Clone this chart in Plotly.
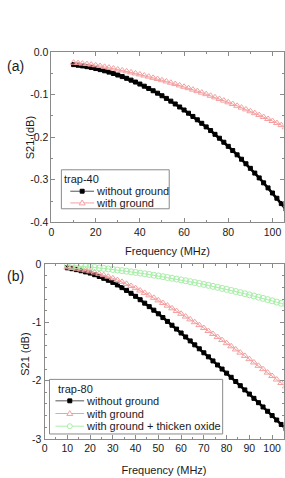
import plotly.graph_objects as go

# ---------------- data ----------------
freq = [10, 12, 14, 16, 18, 20, 22, 24, 26, 28, 30, 32, 34, 36, 38, 40, 42, 44, 46, 48,
        50, 52, 54, 56, 58, 60, 62, 64, 66, 68, 70, 72, 74, 76, 78, 80, 82, 84, 86, 88,
        90, 92, 94, 96, 98, 100, 102, 104, 106]

# (a) trap-40
a_without = [-0.0300, -0.0314, -0.0330, -0.0348, -0.0368, -0.0392, -0.0417, -0.0445, -0.0476, -0.0508,
             -0.0544, -0.0581, -0.0621, -0.0664, -0.0709, -0.0756, -0.0806, -0.0859, -0.0913, -0.0970,
             -0.1030, -0.1092, -0.1156, -0.1223, -0.1293, -0.1364, -0.1439, -0.1515, -0.1594, -0.1676,
             -0.1760, -0.1846, -0.1935, -0.2026, -0.2120, -0.2216, -0.2314, -0.2415, -0.2518, -0.2624,
             -0.2732, -0.2843, -0.2956, -0.3072, -0.3190, -0.3310, -0.3433, -0.3558, -0.3686]
a_with = [-0.0255, -0.0265, -0.0275, -0.0287, -0.0300, -0.0315, -0.0333, -0.0352, -0.0372, -0.0392,
          -0.0414, -0.0436, -0.0458, -0.0482, -0.0506, -0.0530, -0.0556, -0.0582, -0.0610, -0.0637,
          -0.0666, -0.0695, -0.0725, -0.0756, -0.0788, -0.0820, -0.0853, -0.0887, -0.0921, -0.0957,
          -0.0993, -0.1030, -0.1067, -0.1105, -0.1144, -0.1184, -0.1224, -0.1266, -0.1308, -0.1350,
          -0.1394, -0.1438, -0.1483, -0.1528, -0.1575, -0.1622, -0.1670, -0.1719, -0.1768]

# (b) trap-80
b_without = [-0.060, -0.075, -0.091, -0.110, -0.130, -0.150, -0.178, -0.208, -0.240, -0.274,
             -0.310, -0.354, -0.400, -0.448, -0.498, -0.550, -0.608, -0.667, -0.727, -0.788,
             -0.850, -0.915, -0.981, -1.047, -1.113, -1.180, -1.248, -1.316, -1.384, -1.452,
             -1.520, -1.590, -1.660, -1.730, -1.800, -1.870, -1.942, -2.014, -2.086, -2.158,
             -2.230, -2.304, -2.378, -2.452, -2.526, -2.600, -2.676, -2.752, -2.828]
b_with = [-0.050, -0.062, -0.075, -0.089, -0.104, -0.120, -0.140, -0.162, -0.186, -0.212,
          -0.240, -0.270, -0.302, -0.336, -0.372, -0.410, -0.450, -0.491, -0.533, -0.576,
          -0.620, -0.665, -0.710, -0.756, -0.803, -0.850, -0.898, -0.946, -0.995, -1.045,
          -1.095, -1.146, -1.197, -1.249, -1.302, -1.355, -1.409, -1.463, -1.518, -1.574,
          -1.630, -1.687, -1.744, -1.802, -1.861, -1.920, -1.980, -2.040, -2.100]
b_oxide = [-0.011, -0.017, -0.024, -0.030, -0.038, -0.045, -0.053, -0.061, -0.070, -0.079,
           -0.088, -0.098, -0.108, -0.118, -0.128, -0.139, -0.151, -0.162, -0.174, -0.187,
           -0.199, -0.212, -0.226, -0.239, -0.253, -0.268, -0.282, -0.298, -0.313, -0.329,
           -0.345, -0.361, -0.378, -0.395, -0.413, -0.430, -0.448, -0.467, -0.486, -0.505,
           -0.524, -0.544, -0.564, -0.585, -0.606, -0.627, -0.649, -0.670, -0.693]

a_series_names = ["without ground", "with ground"]
b_series_names = ["without ground", "with ground", "with ground + thicken oxide"]
a_legend_title = "trap-40"
b_legend_title = "trap-80"

a_xticks = [0, 20, 40, 60, 80, 100]
a_yticks = [0.0, -0.1, -0.2, -0.3, -0.4]
a_ylabels = ["0.0", "-0.1", "-0.2", "-0.3", "-0.4"]
b_xticks = [0, 10, 20, 30, 40, 50, 60, 70, 80, 90, 100]
b_yticks = [0, -1, -2, -3]
b_ylabels = ["0", "-1", "-2", "-3"]

# ---------------- figure ----------------
W, H = 285, 478
FONT = "Liberation Sans, Arial, sans-serif"
AX = "#8a8a8a"
TXT = "#1a1a1a"
PINK = "#f4a0a0"
GREEN = "#a8eea8"

STYLES = [
    dict(color="black", symbol="square", size=4, lw=2.5),
    dict(color=PINK, symbol="triangle-up-open", size=6, lw=1.0),
    dict(color=GREEN, symbol="circle-open", size=6, lw=1.0),
]


def px_x(p):
    return p / W


def px_y(p):
    return 1 - p / H


fig = go.Figure()

for ys, name, st in zip([a_without, a_with], a_series_names, STYLES):
    fig.add_trace(go.Scatter(x=freq, y=ys, name=name, mode="lines+markers", showlegend=False,
                             line=dict(color=st["color"], width=st["lw"]),
                             marker=dict(symbol=st["symbol"], size=st["size"], color=st["color"],
                                         line=dict(width=1, color=st["color"])),
                             xaxis="x", yaxis="y"))
for ys, name, st in zip([b_without, b_with, b_oxide], b_series_names, STYLES):
    fig.add_trace(go.Scatter(x=freq, y=ys, name=name, mode="lines+markers", showlegend=False,
                             line=dict(color=st["color"], width=st["lw"]),
                             marker=dict(symbol=st["symbol"], size=st["size"], color=st["color"],
                                         line=dict(width=1, color=st["color"])),
                             xaxis="x2", yaxis="y2"))

axis_common = dict(showline=True, linecolor=AX, linewidth=1, mirror="ticks",
                   ticks="inside", ticklen=4, tickcolor=AX, tickwidth=1,
                   showgrid=False, zeroline=False,
                   tickfont=dict(family=FONT, size=10.5, color=TXT))

shapes = []
annotations = []


def add_legend(box, title, title_xy, names, rows_y, line_x0, line_x1, text_x):
    x0, y0, x1, y1 = box
    shapes.append(dict(type="rect", xref="paper", yref="paper",
                       x0=px_x(x0), x1=px_x(x1), y0=px_y(y1), y1=px_y(y0),
                       line=dict(color=AX, width=1), fillcolor="rgba(0,0,0,0)", layer="above"))
    annotations.append(dict(text=title, x=px_x(title_xy[0]), y=px_y(title_xy[1]),
                            xref="paper", yref="paper", xanchor="left", yanchor="middle",
                            showarrow=False, font=dict(family=FONT, size=11, color=TXT)))
    for name, ry, st in zip(names, rows_y, STYLES):
        c = st["color"]
        shapes.append(dict(type="line", xref="paper", yref="paper",
                           x0=px_x(line_x0), x1=px_x(line_x1), y0=px_y(ry), y1=px_y(ry),
                           line=dict(color=c if c != "black" else "#555555", width=1), layer="above"))
        cx = (line_x0 + line_x1) / 2
        if st["symbol"] == "square":
            shapes.append(dict(type="rect", xref="paper", yref="paper",
                               x0=px_x(cx - 2), x1=px_x(cx + 2), y0=px_y(ry + 2), y1=px_y(ry - 2),
                               line=dict(color=c, width=1), fillcolor=c, layer="above"))
        elif st["symbol"].startswith("triangle"):
            path = "M {} {} L {} {} L {} {} Z".format(
                px_x(cx), px_y(ry - 3), px_x(cx - 3), px_y(ry + 2), px_x(cx + 3), px_y(ry + 2))
            shapes.append(dict(type="path", xref="paper", yref="paper", path=path,
                               line=dict(color=c, width=1), fillcolor="white", layer="above"))
        else:
            shapes.append(dict(type="circle", xref="paper", yref="paper",
                               x0=px_x(cx - 2.5), x1=px_x(cx + 2.5), y0=px_y(ry + 2.5), y1=px_y(ry - 2.5),
                               line=dict(color=c, width=1), fillcolor="white", layer="above"))
        annotations.append(dict(text=name, x=px_x(text_x), y=px_y(ry),
                                xref="paper", yref="paper", xanchor="left", yanchor="middle",
                                showarrow=False, font=dict(family=FONT, size=11, color=TXT)))


add_legend((59, 168, 168, 208), a_legend_title, (60, 177), a_series_names,
           [190, 202], 68, 92, 92)
add_legend((47, 383, 222, 439), b_legend_title, (54, 393), b_series_names,
           [405, 418, 431], 53, 82, 82)

annotations += [
    dict(text="(a)", x=px_x(2), y=px_y(62), xref="paper", yref="paper",
         xanchor="left", yanchor="middle", showarrow=False,
         font=dict(family=FONT, size=14, color=TXT)),
    dict(text="(b)", x=px_x(2), y=px_y(277), xref="paper", yref="paper",
         xanchor="left", yanchor="middle", showarrow=False,
         font=dict(family=FONT, size=14, color=TXT)),
    dict(text="S21 (dB)", x=px_x(27), y=px_y(135), xref="paper", yref="paper",
         xanchor="center", yanchor="middle", textangle=-90, showarrow=False,
         font=dict(family=FONT, size=11, color=TXT)),
    dict(text="S21 (dB)", x=px_x(22), y=px_y(357), xref="paper", yref="paper",
         xanchor="center", yanchor="middle", textangle=-90, showarrow=False,
         font=dict(family=FONT, size=11, color=TXT)),
]

fig.update_layout(
    width=W, height=H,
    margin=dict(l=0, r=0, t=0, b=0),
    paper_bgcolor="white", plot_bgcolor="white",
    font=dict(family=FONT, color=TXT, size=11),
    showlegend=False,
    xaxis=dict(domain=[px_x(49), px_x(283.5)], anchor="y", range=[0, 105],
               tickvals=a_xticks,
               minor=dict(dtick=10, ticks="inside", ticklen=2, tickcolor=AX),
               title=dict(text="Frequency (MHz)", standoff=10, font=dict(size=11)),
               **axis_common),
    yaxis=dict(domain=[px_y(222), px_y(47)], anchor="x", range=[-0.4, 0],
               tickvals=a_yticks, ticktext=a_ylabels,
               minor=dict(dtick=0.05, ticks="inside", ticklen=2, tickcolor=AX),
               **axis_common),
    xaxis2=dict(domain=[px_x(42), px_x(283.5)], anchor="y2", range=[0, 105],
                tickvals=b_xticks,
                minor=dict(dtick=5, ticks="inside", ticklen=2, tickcolor=AX),
                title=dict(text="Frequency (MHz)", standoff=12, font=dict(size=11)),
                **axis_common),
    yaxis2=dict(domain=[px_y(444), px_y(265)], anchor="x2", range=[-3, 0],
                tickvals=b_yticks, ticktext=b_ylabels,
                minor=dict(dtick=0.2, ticks="inside", ticklen=2, tickcolor=AX),
                **axis_common),
    shapes=shapes,
    annotations=annotations,
)

fig.write_html("out.html")
